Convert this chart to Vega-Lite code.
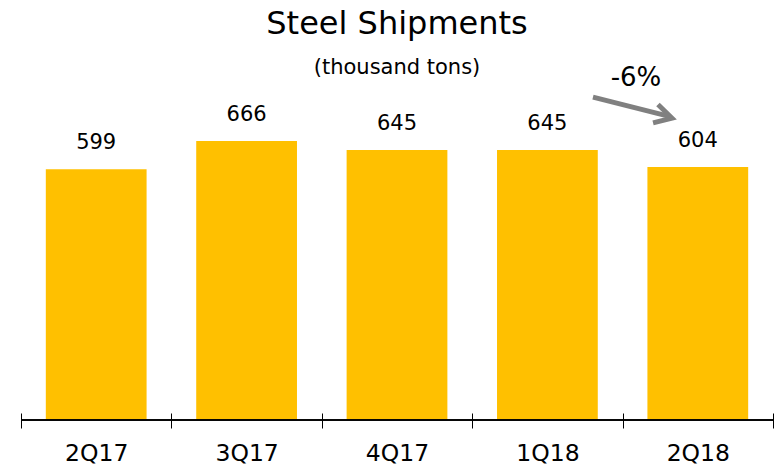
{
  "$schema": "https://vega.github.io/schema/vega-lite/v6.json",
  "width": 752,
  "height": 335,
  "autosize": "none",
  "padding": {"left": 21, "top": 85, "right": 2, "bottom": 49},
  "background": "white",
  "config": {"view": {"stroke": null}, "font": "DejaVu Sans"},
  "title": {
    "text": "Steel Shipments",
    "subtitle": "(thousand tons)",
    "fontSize": 32,
    "fontWeight": "normal",
    "subtitleFontSize": 21,
    "subtitlePadding": 16,
    "offset": -14,
    "anchor": "middle",
    "color": "black",
    "subtitleColor": "black",
    "font": "DejaVu Sans",
    "subtitleFont": "DejaVu Sans"
  },
  "data": {
    "values": [
      {"quarter": "2Q17", "shipments": 599},
      {"quarter": "3Q17", "shipments": 666},
      {"quarter": "4Q17", "shipments": 645},
      {"quarter": "1Q18", "shipments": 645},
      {"quarter": "2Q18", "shipments": 604}
    ]
  },
  "layer": [
    {
      "layer": [
        {
          "mark": {"type": "bar", "color": "#FFC000", "width": {"band": 0.67}},
          "encoding": {
            "x": {
              "field": "quarter", "type": "nominal", "sort": null,
              "scale": {"paddingInner": 0, "paddingOuter": 0},
              "axis": {
                "title": null, "domain": false, "tickBand": "extent", "tickSize": 15,
                "offset": -7, "tickColor": "black", "tickWidth": 1, "labelAngle": 0,
                "labelFontSize": 23.5, "labelColor": "black", "labelPadding": 13,
                "labelFont": "DejaVu Sans"
              }
            },
            "y": {"field": "shipments", "type": "quantitative", "scale": {"domain": [0, 800]}, "axis": null}
          }
        },
        {
          "mark": {"type": "text", "dy": -20, "baseline": "alphabetic", "fontSize": 21, "color": "black"},
          "encoding": {
            "x": {"field": "quarter", "type": "nominal", "sort": null},
            "y": {"field": "shipments", "type": "quantitative", "scale": {"domain": [0, 800]}},
            "text": {"field": "shipments"}
          }
        },
        {
          "mark": {"type": "rule", "color": "black", "strokeWidth": 1},
          "encoding": {"y": {"datum": 0, "type": "quantitative", "scale": {"domain": [0, 800]}}}
        }
      ]
    },
    {
      "data": {"values": [{"label": "-6%"}]},
      "layer": [
        {
          "mark": {"type": "rule", "color": "#808080", "strokeWidth": 5, "strokeCap": "butt"},
          "encoding": {
            "x": {"datum": 3.803, "type": "quantitative", "scale": {"domain": [0, 5]}, "axis": null},
            "x2": {"datum": 4.31},
            "y": {"datum": 771, "type": "quantitative", "scale": {"domain": [0, 800]}},
            "y2": {"datum": 725}
          }
        },
        {
          "mark": {"type": "point", "shape": "M-1,-0.56L0,0L-1,0.56", "filled": false, "stroke": "#808080", "strokeWidth": 5, "size": 1156, "angle": 15, "strokeJoin": "miter", "opacity": 1},
          "encoding": {
            "x": {"datum": 4.328, "type": "quantitative", "scale": {"domain": [0, 5]}, "axis": null},
            "y": {"datum": 721, "type": "quantitative", "scale": {"domain": [0, 800]}}
          }
        },
        {
          "mark": {"type": "text", "fontSize": 26, "baseline": "middle", "color": "black"},
          "encoding": {
            "x": {"datum": 4.089, "type": "quantitative", "scale": {"domain": [0, 5]}, "axis": null},
            "y": {"datum": 817, "type": "quantitative", "scale": {"domain": [0, 800]}},
            "text": {"field": "label"}
          }
        }
      ]
    }
  ],
  "resolve": {"scale": {"x": "independent"}}
}
